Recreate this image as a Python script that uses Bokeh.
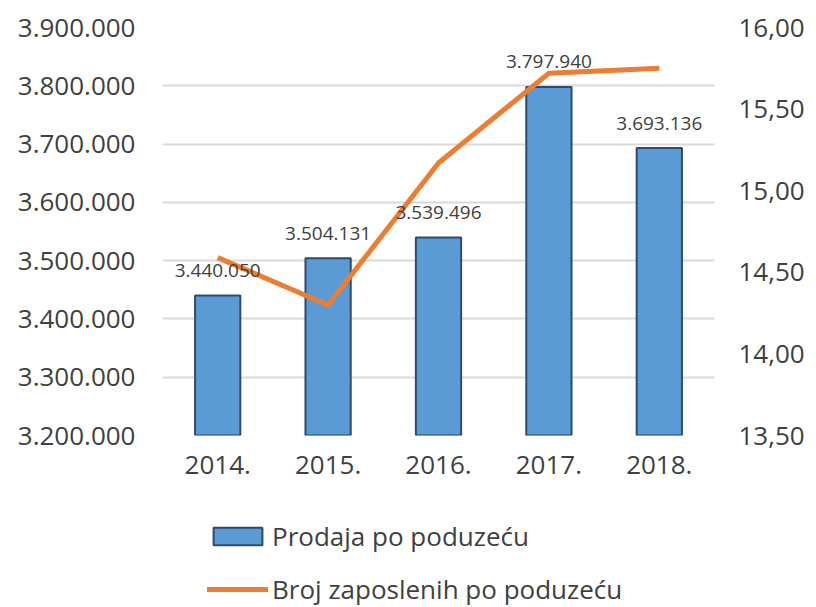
from bokeh.plotting import figure
from bokeh.models import Range1d, LinearAxis, FactorRange, FixedTicker, Legend, LegendItem, ColumnDataSource
from bokeh.layouts import column
from bokeh.core.properties import value
from bokeh.embed import file_html
from bokeh.resources import INLINE

years = ["2014.", "2015.", "2016.", "2017.", "2018."]
prodaja = [3440050, 3504131, 3539496, 3797940, 3693136]
zaposleni = [14.59, 14.30, 15.17, 15.72, 15.75]
left_ticks = [3200000, 3300000, 3400000, 3500000, 3600000, 3700000, 3800000, 3900000]
left_tick_labels = ["3.200.000", "3.300.000", "3.400.000", "3.500.000", "3.600.000", "3.700.000", "3.800.000", "3.900.000"]
right_ticks = [13.5, 14.0, 14.5, 15.0, 15.5, 16.0]
right_tick_labels = ["13,50", "14,00", "14,50", "15,00", "15,50", "16,00"]
series_names = ["Prodaja po poduzeću", "Broj zaposlenih po poduzeću"]
bar_label_texts = [f"{v:,}".replace(",", ".") for v in prodaja]

FONT = "Open Sans"
TXT = "#404040"
BAR_FILL = "#5B9BD5"
BAR_LINE = "#2F4A6B"
LINE_COL = "#ED7D31"

src = ColumnDataSource(dict(x=years, top=prodaja, z=zaposleni, lab=bar_label_texts))

p = figure(x_range=FactorRange(*years, range_padding=0), y_range=Range1d(3200000, 3900000),
           frame_width=552, frame_height=408,
           min_border_left=162, min_border_right=94, min_border_top=27, min_border_bottom=60,
           output_backend="svg", toolbar_location=None)
p.outline_line_color = None
p.extra_y_ranges = {"right": Range1d(13.5, 16.0)}

p.vbar(x="x", top="top", bottom=3200000, width=0.41, source=src,
       fill_color=BAR_FILL, line_color=BAR_LINE, line_width=2)
p.line(x="x", y="z", source=src, y_range_name="right",
       line_color=LINE_COL, line_width=5, line_join="round")

p.text(x="x", y="top", text="lab", source=src, text_align="center", text_baseline="middle",
       y_offset=-25, text_font=value(FONT), text_font_size="19px", text_color=TXT)

ya = p.yaxis[0]
ya.ticker = FixedTicker(ticks=left_ticks)
ya.major_label_overrides = {t: l for t, l in zip(left_ticks, left_tick_labels)}
ra = LinearAxis(y_range_name="right", ticker=FixedTicker(ticks=right_ticks))
ra.major_label_overrides = {t: l for t, l in zip(right_ticks, right_tick_labels)}
p.add_layout(ra, "right")

for ax in [ya, ra, p.xaxis[0]]:
    ax.axis_line_color = None
    ax.major_tick_line_color = None
    ax.minor_tick_line_color = None
    ax.major_tick_out = 0
    ax.major_tick_in = 0
    ax.major_label_text_font = FONT
    ax.major_label_text_font_size = "26px"
    ax.major_label_text_color = TXT
ya.major_label_standoff = 27
ra.major_label_standoff = 24
p.xaxis[0].major_label_standoff = 20

p.xgrid.grid_line_color = None
p.ygrid.ticker = FixedTicker(ticks=left_ticks)
p.ygrid.grid_line_color = "#D9D9D9"
p.ygrid.grid_line_width = 2

# legend strip below the chart; its renderers are hidden and only feed the legend
p2 = figure(x_range=p.x_range, y_range=Range1d(0, 1), width=808, height=112,
            min_border=0, x_axis_location=None, y_axis_location=None,
            output_backend="svg", toolbar_location=None)
p2.outline_line_color = None
p2.grid.grid_line_color = None
r_bar = p2.vbar(x="x", top="top", bottom=3200000, width=0.41, source=src,
                fill_color=BAR_FILL, line_color=BAR_LINE, line_width=2)
r_line = p2.line(x="x", y="z", source=src, line_color=LINE_COL, line_width=5, line_cap="round")
r_bar.visible = False
r_line.visible = False

legend = Legend(items=[LegendItem(label=series_names[0], renderers=[r_bar]),
                       LegendItem(label=series_names[1], renderers=[r_line])],
                location=(45, 0), orientation="vertical", click_policy="none",
                glyph_width=61, glyph_height=22, label_height=28, spacing=17,
                label_standoff=4, padding=0, margin=0,
                border_line_color=None, background_fill_alpha=0,
                label_text_font=FONT, label_text_font_size="26px", label_text_color=TXT)
p2.add_layout(legend, "center")

open("out.html", "w").write(file_html(column(p, p2, spacing=0), INLINE))
